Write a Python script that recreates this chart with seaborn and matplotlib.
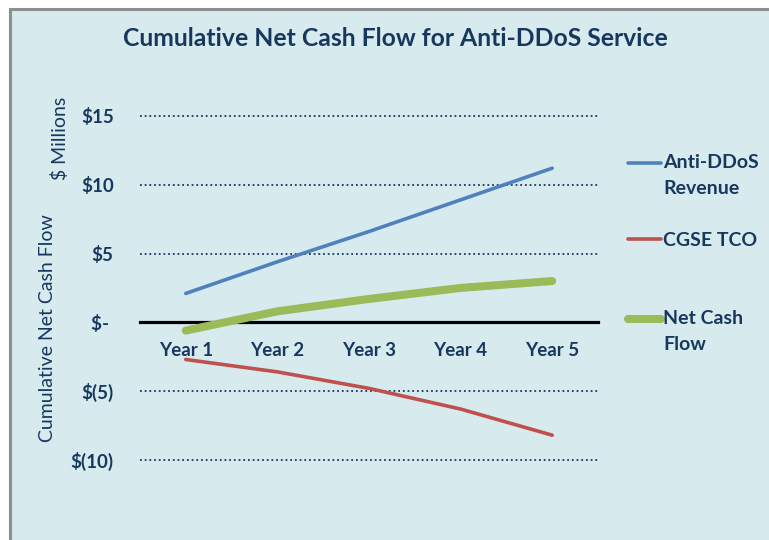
import numpy as np
import pandas as pd
import matplotlib
matplotlib.use("Agg")
import matplotlib.pyplot as plt
import seaborn as sns
from matplotlib.patches import Rectangle

# ---------------- data ----------------
years = ["Year 1", "Year 2", "Year 3", "Year 4", "Year 5"]
revenue = [2.1, 4.4, 6.6, 8.9, 11.2]
tco = [-2.7, -3.6, -4.8, -6.3, -8.2]
net_cash = [-0.6, 0.8, 1.7, 2.5, 3.0]
series_names = ["Anti-DDoS Revenue", "CGSE TCO", "Net Cash Flow"]
legend_labels = ["Anti-DDoS\nRevenue", "CGSE TCO", "Net Cash\nFlow"]
y_ticks = [-10, -5, 0, 5, 10, 15]
y_tick_labels = ["$(10)", "$(5)", "$- ", "$5", "$10", "$15"]
title = "Cumulative Net Cash Flow for Anti-DDoS Service"
ylabel_main = "Cumulative Net Cash Flow"
ylabel_unit = "$ Millions"

# ---------------- style ----------------
sns.set_theme(style="white")
plt.rcParams['font.family'] = ['Lato', 'DejaVu Sans']
navy = "#17375e"
bg = "#d7ebee"
colors = ["#4f81bd", "#c0504d", "#9bbb59"]
widths = [2.6, 2.6, 5.8]

df = pd.DataFrame({
    "Year": years * 3,
    "Value": revenue + tco + net_cash,
    "Series": [series_names[0]] * 5 + [series_names[1]] * 5 + [series_names[2]] * 5,
})

fig = plt.figure(figsize=(7.69, 5.40), dpi=100, facecolor="white")
fig.patches.append(Rectangle((10 / 769, -0.05), 1.0, 0.05 + (540 - 9) / 540,
                             transform=fig.transFigure, facecolor=bg,
                             edgecolor="#8a9092", linewidth=2.2, zorder=-5))

ax = fig.add_axes([0.182, 0.1406, 0.5956, 0.6524])
ax.set_facecolor("none")

for name, c, lw in zip(series_names, colors, widths):
    sns.lineplot(data=df[df["Series"] == name], x="Year", y="Value", color=c,
                 linewidth=lw, ax=ax, label=name, legend=False, sort=False,
                 solid_capstyle="round", zorder=3)

ax.set_xlim(-0.5, 4.5)
ax.set_ylim(-10.3, 15.3)
ax.set_yticks(y_ticks)
ax.set_yticklabels(y_tick_labels)
ax.yaxis.grid(True, linestyle=(0, (1, 1.6)), linewidth=1.3, color=navy)
ax.xaxis.grid(False)
ax.set_axisbelow(True)
for s in ["left", "right", "top"]:
    ax.spines[s].set_visible(False)
ax.spines["bottom"].set_position(("data", 0))
ax.spines["bottom"].set_color("black")
ax.spines["bottom"].set_linewidth(2.3)
ax.spines["bottom"].set_zorder(2.5)

ax.tick_params(axis="y", length=0, pad=19, labelsize=13.5, labelcolor=navy)
ax.tick_params(axis="x", length=0, pad=14, labelsize=13.5, labelcolor=navy)
for lbl in ax.get_yticklabels() + ax.get_xticklabels():
    lbl.set_fontweight("bold")
ax.set_xlabel("")
ax.set_ylabel(ylabel_main, fontsize=14, color=navy, va="center")
ax.yaxis.set_label_coords((48 - 140) / 458, (464.1 - 328) / 352.3)

fig.text(60 / 769, 1 - 138.5 / 540, ylabel_unit, rotation=90, ha="center",
         va="center", fontsize=14, color=navy)
fig.text(0.514, 1 - 38 / 540, title, ha="center", va="center", fontsize=17.8,
         fontweight="bold", color=navy)

handles, _ = ax.get_legend_handles_labels()
leg_labels = [(" \n" + l if "\n" in l else l) for l in legend_labels]
leg = fig.legend(handles, leg_labels, loc="upper left",
                 bbox_to_anchor=(628 / 769, 1 - 128 / 540), frameon=False,
                 prop=dict(family="Lato", weight="bold", size=14),
                 labelcolor=navy, handlelength=1.7, handletextpad=0.12,
                 labelspacing=1.8, borderpad=0, borderaxespad=0)
for t in leg.get_texts():
    t.set_linespacing(1.65)

fig.savefig("out.png", dpi=100, facecolor=fig.get_facecolor())
